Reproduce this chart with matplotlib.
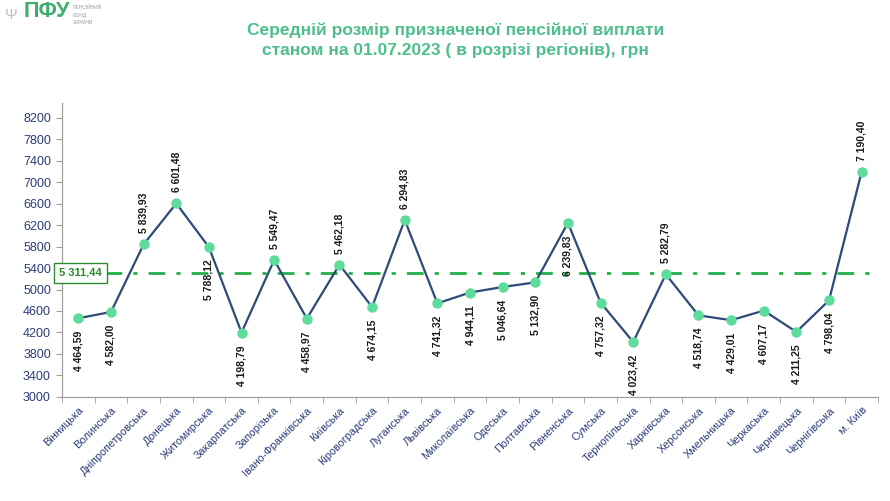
import matplotlib
matplotlib.use("Agg")
import matplotlib.pyplot as plt
import numpy as np

plt.rcParams['font.family'] = ['Liberation Sans', 'DejaVu Sans']

regions = ["Вінницька", "Волинська", "Дніпропетровська", "Донецька", "Житомирська",
           "Закарпатська", "Запорізька", "Івано-Франківська", "Київська", "Кіровоградська",
           "Луганська", "Львівська", "Миколаївська", "Одеська", "Полтавська",
           "Рівненська", "Сумська", "Тернопільська", "Харківська", "Херсонська",
           "Хмельницька", "Черкаська", "Чернівецька", "Чернігівська", "м. Київ"]
values = [4464.59, 4582.00, 5839.93, 6601.48, 5788.12,
          4198.79, 5549.47, 4458.97, 5462.18, 4674.15,
          6294.83, 4741.32, 4944.11, 5046.64, 5132.90,
          6239.83, 4757.32, 4023.42, 5282.79, 4518.74,
          4429.01, 4607.17, 4211.25, 4798.04, 7190.40]
label_above = [False, False, True, True, False,
               False, True, False, True, False,
               True, False, False, False, False,
               False, False, False, True, False,
               False, False, False, False, True]
average = 5311.44
yticks = list(range(3000, 8201, 400))
title = "Середній розмір призначеної пенсійної виплати\nстаном на 01.07.2023 ( в розрізі регіонів), грн"


def fmt(v):
    s = f"{v:,.2f}"
    return s.replace(",", " ").replace(".", ",")


fig = plt.figure(figsize=(8.9, 5.01), dpi=100)
ax = fig.add_axes([0.0697, 0.2076, 0.9168, 0.5868])

x = np.arange(len(regions))
ax.plot(x, values, color="#2D4A78", lw=1.6, zorder=3,
        marker="o", markersize=7.5, markerfacecolor="#5EDC9B",
        markeredgecolor="#5EDC9B", markeredgewidth=0)

ax.axhline(average, color="#23B04A", lw=2.0, ls=(0, (6, 4, 1.5, 4)), zorder=2)

for xi, v, up in zip(x, values, label_above):
    if up:
        ax.annotate(fmt(v), (xi, v), xytext=(0, 8), textcoords="offset points",
                    rotation=90, ha="center", va="bottom", fontsize=7.5,
                    fontweight="bold", color="#1a1a1a", zorder=4)
    else:
        ax.annotate(fmt(v), (xi, v), xytext=(0, -9), textcoords="offset points",
                    rotation=90, ha="center", va="top", fontsize=7.5,
                    fontweight="bold", color="#1a1a1a", zorder=4)

ax.text(0.023, average, fmt(average), transform=ax.get_yaxis_transform(),
        ha="center", va="center", fontsize=8, fontweight="bold", color="#2E8B2E",
        bbox=dict(boxstyle="square,pad=0.45", facecolor="white",
                  edgecolor="#2E8B2E", lw=1.0), zorder=5, clip_on=False)

ax.set_xlim(-0.5, len(regions) - 0.5)
ax.set_ylim(3000, 8470)
ax.set_yticks(yticks)
ax.set_yticklabels([str(t) for t in yticks], fontsize=9, color="#2B3C78")
ax.set_xticks(x)
ax.set_xticklabels(regions, rotation=45, ha="right", rotation_mode="anchor",
                   fontsize=7.8, color="#2B3C78")
ax.set_xticks(np.arange(-0.5, len(regions)), minor=True)
ax.tick_params(axis="x", which="major", length=0, pad=6)
ax.tick_params(axis="x", which="minor", length=4, color="#A0A0A0", direction="out")
ax.tick_params(axis="y", length=4, color="#A0A0A0", direction="out", pad=4)

for s in ["top", "right"]:
    ax.spines[s].set_visible(False)
for s in ["left", "bottom"]:
    ax.spines[s].set_color("#A0A0A0")
    ax.spines[s].set_linewidth(0.9)

fig.text(0.512, 0.955, title, ha="center", va="top", fontsize=12.5,
         fontweight="bold", color="#4DBE8C", linespacing=1.45)

# logo
fig.text(0.027, 0.998, "ПФУ", ha="left", va="top", fontsize=15.5,
         fontweight="bold", color="#3DAE6E")
fig.text(0.082, 0.99, "ПЕНСІЙНИЙ\nФОНД\nУКРАЇНИ", ha="left", va="top",
         fontsize=3.5, color="#9A9A9A", linespacing=1.6)
fig.text(0.006, 0.985, "Ψ", ha="left", va="top", fontsize=11, color="#C0C0C0")

fig.savefig("out.png", dpi=100)
